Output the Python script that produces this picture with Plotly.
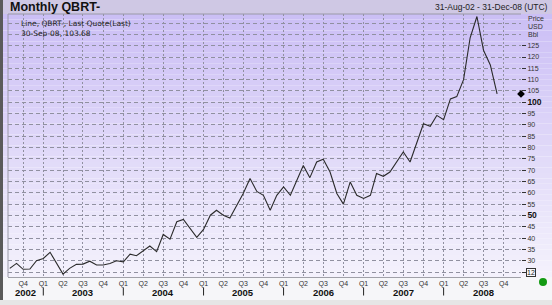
import plotly.graph_objects as go
import pandas as pd

# ---- data ----
months = pd.date_range("2002-08-01", "2008-09-01", freq="MS").strftime("%Y-%m-%d").tolist()
prices = [26.6, 28.8, 26.2, 26.3, 30.0,
          31.0, 33.7, 29.0, 24.1, 26.6, 28.4, 28.5, 29.8, 28.1, 28.1, 28.8, 30.0,
          29.5, 32.9, 32.2, 34.3, 36.5, 34.0, 41.6, 39.5, 47.2, 48.2, 44.3, 40.3,
          43.8, 50.1, 52.3, 50.1, 48.9, 54.5, 59.7, 66.3, 60.6, 58.9, 52.3, 58.9,
          62.6, 58.9, 65.5, 72.1, 66.7, 73.6, 74.8, 69.2, 59.7, 55.0, 64.8, 58.9,
          57.5, 58.9, 68.5, 67.3, 69.2, 73.6, 78.0, 73.6, 82.4, 90.5, 89.4, 94.2,
          92.3, 101.5, 102.5, 110.0, 128.5, 137.9, 123.0, 116.5, 103.68]

quarter_ticks = pd.date_range("2002-10-01", "2008-10-01", freq="QS").strftime("%Y-%m-%d").tolist()
quarter_labels = ["Q%d" % ((int(d[5:7]) - 1) // 3 + 1) for d in quarter_ticks]
years = ["2002", "2003", "2004", "2005", "2006", "2007", "2008"]
year_label_pos = ["2002-10-10", "2003-07-01", "2004-07-01", "2005-07-01",
                  "2006-07-01", "2007-07-01", "2008-07-01"]
year_bounds = ["2003-01-01", "2004-01-01", "2005-01-01", "2006-01-01",
               "2007-01-01", "2008-01-01"]
y_ticks = list(range(30, 130, 5))
y_labels = []
for v in y_ticks:
    if v in (50, 100):
        y_labels.append("<b><span style='font-size:8.5px;color:#111'>%d</span></b>" % v)
    else:
        y_labels.append(str(v))

X_RANGE = ["2002-07-24", "2008-12-19"]
Y_RANGE = [22.8, 139.0]

W, H = 552, 305
L, R, T, B = 8, 31, 14, 28
PW, PH = W - L - R, H - T - B
FONT = "Liberation Sans, Arial"
FONT2 = "DejaVu Sans, Verdana"


def px(xp):
    return (xp - L) / PW


def py(yp):
    return (H - B - yp) / PH


fig = go.Figure()
fig.add_trace(go.Scatter(x=months, y=prices, mode="lines",
                         line=dict(color="#2a2a2a", width=1.1),
                         hoverinfo="skip", showlegend=False))
# last value pointer on the axis
fig.add_trace(go.Scatter(x=[X_RANGE[1]], y=[prices[-1]], mode="markers",
                         marker=dict(symbol="diamond", size=6, color="#000"),
                         cliponaxis=False, hoverinfo="skip", showlegend=False))

shapes = []
# gradient background (plot + right axis area)
top_c = (203, 190, 245)
bot_c = (244, 242, 252)
n = 48
y0p, y1p = T, H - B
for i in range(n):
    a = y0p + (y1p - y0p) * i / n
    b = y0p + (y1p - y0p) * (i + 1) / n
    t = (i + 0.5) / n
    c = tuple(int(round(top_c[k] + (bot_c[k] - top_c[k]) * t)) for k in range(3))
    shapes.append(dict(type="rect", xref="paper", yref="paper", layer="below",
                       x0=px(3), x1=px(W), y0=py(b), y1=py(a),
                       fillcolor="rgb(%d,%d,%d)" % c, line=dict(width=0)))
# header band
shapes.append(dict(type="rect", xref="paper", yref="paper", layer="below",
                   x0=px(0), x1=px(W), y0=py(T), y1=py(0),
                   fillcolor="#cfc8e4", line=dict(width=0)))
# bottom band
shapes.append(dict(type="rect", xref="paper", yref="paper", layer="below",
                   x0=px(3), x1=px(W), y0=py(300), y1=py(H - B),
                   fillcolor="#f6f6f9", line=dict(width=0)))
shapes.append(dict(type="rect", xref="paper", yref="paper", layer="below",
                   x0=px(0), x1=px(W), y0=py(H), y1=py(300),
                   fillcolor="#e6e6e6", line=dict(width=0)))
# left dark frame
shapes.append(dict(type="rect", xref="paper", yref="paper", layer="below",
                   x0=px(0), x1=px(3), y0=py(300), y1=py(0),
                   fillcolor="#5a5a5a", line=dict(width=0)))
# plot frame left/top
shapes.append(dict(type="line", xref="paper", yref="paper", x0=0, x1=0, y0=0, y1=1,
                   line=dict(color="#9a9aa8", width=1)))
shapes.append(dict(type="line", xref="paper", yref="paper", x0=0, x1=1, y0=1, y1=1,
                   line=dict(color="#9a9aa8", width=1)))
# year separators
for xb in year_bounds:
    shapes.append(dict(type="line", xref="x", yref="paper", x0=xb, x1=xb,
                       y0=py(295.5), y1=py(287.5), line=dict(color="#222", width=1)))
# green status dot
shapes.append(dict(type="circle", xref="paper", yref="paper",
                   x0=px(539), x1=px(547), y0=py(286), y1=py(278),
                   fillcolor="#139a13", line=dict(width=0)))

ann = []
ann.append(dict(text="<b>Monthly QBRT-</b>", x=px(8), y=py(7.5), xref="paper", yref="paper",
                xanchor="left", yanchor="middle", showarrow=False,
                font=dict(size=12.5, color="#111", family=FONT)))
ann.append(dict(text="31-Aug-02 - 31-Dec-08 (UTC)", x=px(550), y=py(7), xref="paper", yref="paper",
                xanchor="right", yanchor="middle", showarrow=False,
                font=dict(size=8.5, color="#222", family=FONT)))
ann.append(dict(text="Line, QBRT-, Last Quote(Last)<br>30-Sep-08, %.2f" % prices[-1],
                x=px(20), y=py(28.8), xref="paper", yref="paper", align="left",
                xanchor="left", yanchor="middle", showarrow=False, borderpad=0,
                font=dict(size=7.5, color="#222", family=FONT2)))
for txt, yy in (("Price", 18), ("USD", 26.5), ("Bbl", 34.5)):
    ann.append(dict(text=txt, x=px(527), y=py(yy), xref="paper", yref="paper",
                    xanchor="left", yanchor="middle", showarrow=False, borderpad=0,
                    font=dict(size=7, color="#333", family=FONT)))
ann.append(dict(text="12", x=px(526), y=25, xref="paper", yref="y",
                xanchor="left", yanchor="middle", showarrow=False,
                bordercolor="#333", borderwidth=1, borderpad=0, bgcolor="#f8f8fc",
                font=dict(size=7, color="#222", family=FONT)))
for yr, xp in zip(years, year_label_pos):
    ann.append(dict(text="<b>%s</b>" % yr, x=xp, y=py(292), xref="x", yref="paper",
                    xanchor="center", yanchor="middle", showarrow=False,
                    font=dict(size=9.5, color="#111", family=FONT)))

fig.update_layout(
    width=W, height=H,
    margin=dict(l=L, r=R, t=T, b=B, pad=0),
    paper_bgcolor="rgba(0,0,0,0)", plot_bgcolor="rgba(0,0,0,0)",
    shapes=shapes, annotations=ann, showlegend=False,
    xaxis=dict(type="date", range=X_RANGE, tickvals=quarter_ticks, ticktext=quarter_labels,
               showgrid=True, gridcolor="#9090a0", griddash="2px,2px", gridwidth=1,
               ticks="", showline=True, linecolor="#a0a0a8", linewidth=1,
               tickfont=dict(size=7, color="#333", family=FONT),
               zeroline=False, fixedrange=True),
    yaxis=dict(side="right", range=Y_RANGE, tickvals=y_ticks + [25], ticktext=y_labels + [""],
               showgrid=True, gridcolor="#9090a0", griddash="4px,3px", gridwidth=1,
               ticks="outside", ticklen=4, tickcolor="#333", showline=False,
               tickfont=dict(size=7, color="#333", family=FONT),
               minor=dict(tick0=0, dtick=5, showgrid=True, gridcolor="#9090a0",
                          griddash="4px,3px", ticks=""),
               zeroline=False, fixedrange=True),
)

fig.write_html("out.html", config={"displayModeBar": False})
